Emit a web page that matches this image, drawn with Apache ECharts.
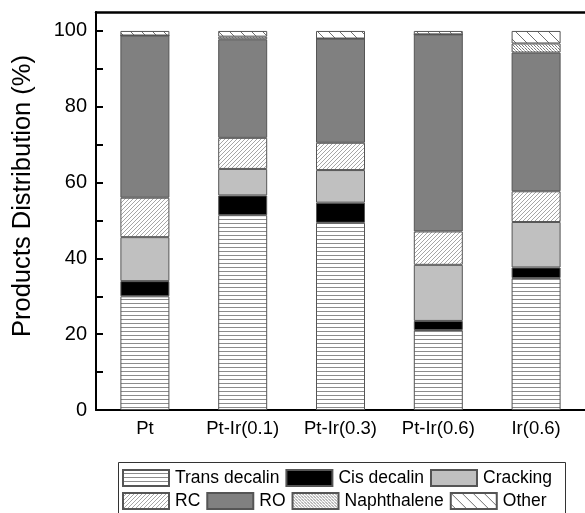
<!DOCTYPE html>
<html><head><meta charset="utf-8">
<script src="https://cdn.jsdelivr.net/npm/echarts@6/dist/echarts.min.js"></script>
<style>html,body{margin:0;padding:0;background:#fff}#c{width:585px;height:513px}</style>
</head><body><div id="c"></div>
<script>
// ---- data ----
const categories = ['Pt', 'Pt-Ir(0.1)', 'Pt-Ir(0.3)', 'Pt-Ir(0.6)', 'Ir(0.6)'];
const transDecalin = [30.0, 51.4, 49.4, 21.1, 34.8];
const cisDecalin   = [4.0, 5.2, 5.3, 2.4, 2.8];
const cracking     = [11.6, 7.0, 8.6, 14.8, 12.0];
const rc           = [10.4, 8.2, 7.2, 8.8, 8.1];
const ro           = [42.8, 26.0, 27.5, 52.0, 36.6];
const naphthalene  = [0, 0.7, 0, 0, 2.4];
const other        = [1.2, 1.5, 2.0, 0.9, 3.3];
const seriesNames  = ['Trans decalin', 'Cis decalin', 'Cracking', 'RC', 'RO', 'Naphthalene', 'Other'];
const yLabelStep = 20;

// ---- patterns ----
function pat(w, h, bg, draw) {
  const c = document.createElement('canvas'); c.width = w; c.height = h;
  const g = c.getContext('2d'); g.fillStyle = bg; g.fillRect(0, 0, w, h); draw(g);
  return { image: c, repeat: 'repeat' };
}
const pTrans = pat(4, 4, '#ffffff', g => { g.fillStyle = '#8c8c8c'; g.fillRect(0, 3, 4, 1); });
const pRC = pat(4, 4, '#ffffff', g => { g.fillStyle = '#a6a6a6'; for (let i = 0; i < 4; i++) g.fillRect(i, 3 - i, 1, 1); });
const pNaph = pat(3, 3, '#ffffff', g => { g.fillStyle = '#7a7a7a'; g.fillRect(0, 0, 1, 1); g.fillRect(1, 1, 1, 1); g.fillStyle = '#b0b0b0'; g.fillRect(2, 2, 1, 1); });
const pOther = pat(11, 11, '#ffffff', g => { g.fillStyle = '#6e6e6e'; for (let i = 0; i < 11; i++) g.fillRect(i, i, 1, 1); });
const fills = [pTrans, '#000000', '#c0c0c0', pRC, '#808080', pNaph, pOther];
const values = [transDecalin, cisDecalin, cracking, rc, ro, naphthalene, other];

const FONT = "'Liberation Sans', Arial, sans-serif";
const chart = echarts.init(document.getElementById('c'), null, { renderer: 'canvas' });

const legendCommon = {
  left: 122, padding: 0, itemWidth: 46, itemHeight: 16, itemGap: 6, icon: 'rect',
  textStyle: { fontSize: 17.5, color: '#000', fontFamily: FONT, padding: [0, 0, 0, 1] },
  selectedMode: false
};

chart.setOption({
  animation: false,
  backgroundColor: '#fff',
  grid: { left: 96, top: 12, width: 490, height: 398 },
  graphic: [
    { type: 'rect', shape: { x: 118.5, y: 462.5, width: 447, height: 60 }, style: { fill: 'none', stroke: '#333', lineWidth: 1 } },
    { type: 'text', x: 23, y: 196, rotation: Math.PI / 2,
      style: { text: 'Products Distribution (%)', fontSize: 25.5, fontFamily: FONT, fill: '#000', align: 'center', verticalAlign: 'middle' } }
  ],
  legend: [
    Object.assign({ data: seriesNames.slice(0, 3), top: 469 }, legendCommon),
    Object.assign({ data: seriesNames.slice(3), top: 492 }, legendCommon)
  ],
  xAxis: [
    { type: 'category', data: categories, position: 'bottom',
      axisLine: { lineStyle: { color: '#000', width: 2 } },
      axisTick: { inside: true, alignWithLabel: true, length: 7, lineStyle: { color: '#000', width: 2 } },
      axisLabel: { fontSize: 18.5, color: '#000', fontFamily: FONT, margin: 9 } },
    { type: 'category', data: categories, position: 'top',
      axisLine: { lineStyle: { color: '#000', width: 2.5 } },
      axisTick: { show: false }, axisLabel: { show: false } }
  ],
  yAxis: {
    type: 'value', min: 0, max: 105, interval: 10,
    axisLine: { show: true, lineStyle: { color: '#000', width: 2 } },
    axisTick: { show: true, inside: true, length: 7, lineStyle: { color: '#000', width: 2 } },
    splitLine: { show: false },
    axisLabel: { fontSize: 20, color: '#000', fontFamily: FONT, margin: 9, showMaxLabel: false,
      formatter: v => (v % yLabelStep === 0 ? String(v) : '') }
  },
  series: seriesNames.map((name, i) => ({
    name, type: 'bar', stack: 'total', barWidth: 49, data: values[i],
    itemStyle: { color: fills[i], borderColor: '#555', borderWidth: 1 },
    emphasis: { disabled: true }
  }))
});
</script></body></html>
